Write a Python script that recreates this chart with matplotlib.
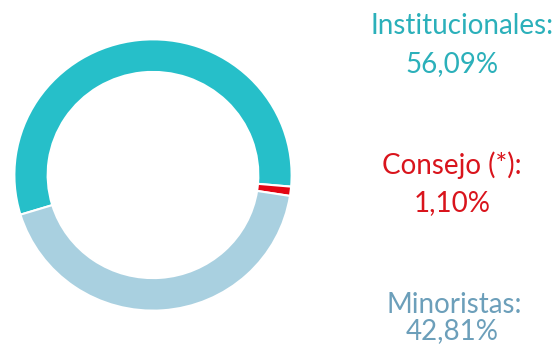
import matplotlib
matplotlib.use("Agg")
import matplotlib.pyplot as plt

# Datos
categorias = ["Institucionales", "Consejo (*)", "Minoristas"]
porcentajes = [56.09, 1.10, 42.81]
etiquetas = ["56,09%", "1,10%", "42,81%"]
colores = ["#26bfc9", "#e30613", "#a9d0e0"]
colores_texto = ["#2bb0ba", "#d9141c", "#6c9fba"]

plt.rcParams['font.family'] = ['Lato', 'DejaVu Sans']

fig = plt.figure(figsize=(5.54, 3.45), dpi=100)

# Donut
ax = fig.add_axes([13 / 554, 33 / 345, 280 / 554, 274 / 345])
ax.pie(porcentajes, colors=colores, startangle=197, counterclock=False,
       wedgeprops=dict(width=0.24, edgecolor='white', linewidth=1.5))
ax.set_aspect('auto')
ax.set_xlim(-1.01, 1.01)
ax.set_ylim(-1.01, 1.01)
ax.axis('off')

# Textos a la derecha (linea base en px desde arriba)
y_pos = [(34, 72), (174, 211), (313, 339)]
x_pos = [462, 452, 454]
for cat, et, col, (y1, y2), x in zip(categorias, etiquetas, colores_texto, y_pos, x_pos):
    fig.text(x / 554, 1 - y1 / 345, cat + ":", color=col, fontsize=20,
             ha='center', va='baseline')
    fig.text(452 / 554, 1 - y2 / 345, et, color=col, fontsize=20,
             ha='center', va='baseline')

fig.savefig("out.png", dpi=100)
